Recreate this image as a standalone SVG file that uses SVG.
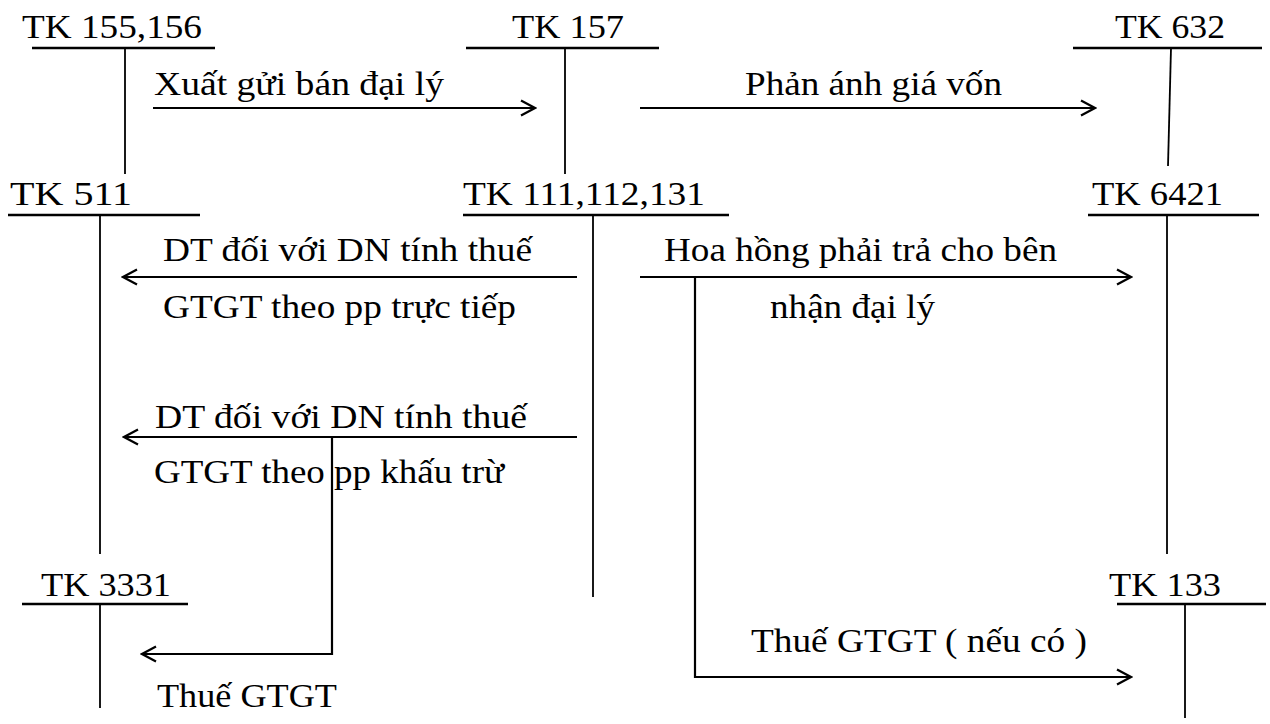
<svg xmlns="http://www.w3.org/2000/svg" width="1270" height="724" viewBox="0 0 1270 724">
  <style>
    .acct { stroke: #000; stroke-width: 2.5; fill: none; }
    .stem { stroke: #000; stroke-width: 1.8; fill: none; }
    .flow { stroke: #000; stroke-width: 2.2; fill: none; }
    .arrow { marker-end: url(#head); }
  </style>
  <defs>
    <marker id="head" viewBox="0 0 18 18" refX="16" refY="9" markerWidth="18" markerHeight="18" markerUnits="userSpaceOnUse" orient="auto">
      <path d="M2,1.5 L16,9 L2,16.5" fill="none" stroke="#000" stroke-width="2.2"/>
    </marker>
  </defs>
  <rect width="1270" height="724" fill="#fff"/>

  <g font-family="Tinos, 'Times New Roman', Times, 'Liberation Serif', 'Nimbus Roman', 'Noto Serif', FreeSerif, 'DejaVu Serif', serif" font-size="34" fill="#000">
  <!-- T-accounts -->
  <g id="tk155-156">
    <text x="22" y="38" textLength="180" lengthAdjust="spacingAndGlyphs">TK 155,156</text>
    <line class="acct" x1="32" y1="48" x2="215" y2="48"/>
    <line class="stem" x1="125" y1="48" x2="125" y2="174"/>
  </g>
  <g id="tk157">
    <text x="512" y="38" textLength="112" lengthAdjust="spacingAndGlyphs">TK 157</text>
    <line class="acct" x1="466" y1="48" x2="659" y2="48"/>
    <line class="stem" x1="565" y1="48" x2="565" y2="174"/>
  </g>
  <g id="tk632">
    <text x="1115" y="38" textLength="110" lengthAdjust="spacingAndGlyphs">TK 632</text>
    <line class="acct" x1="1073" y1="48" x2="1262" y2="48"/>
    <line class="stem" x1="1171" y1="48" x2="1168" y2="166"/>
  </g>
  <g id="tk511">
    <text x="10" y="205" textLength="122" lengthAdjust="spacingAndGlyphs">TK 511</text>
    <line class="acct" x1="8" y1="215" x2="200" y2="215"/>
    <line class="stem" x1="100" y1="215" x2="100" y2="554"/>
  </g>
  <g id="tk111-112-131">
    <text x="463" y="205" textLength="242" lengthAdjust="spacingAndGlyphs">TK 111,112,131</text>
    <line class="acct" x1="463" y1="215" x2="729" y2="215"/>
    <line class="stem" x1="593" y1="215" x2="593" y2="597"/>
  </g>
  <g id="tk6421">
    <text x="1092" y="205" textLength="131" lengthAdjust="spacingAndGlyphs">TK 6421</text>
    <line class="acct" x1="1088" y1="215" x2="1259" y2="215"/>
    <line class="stem" x1="1167" y1="215" x2="1167" y2="554"/>
  </g>
  <g id="tk3331">
    <text x="41" y="596" textLength="130" lengthAdjust="spacingAndGlyphs">TK 3331</text>
    <line class="acct" x1="22" y1="604" x2="188" y2="604"/>
    <line class="stem" x1="100" y1="604" x2="100" y2="708"/>
  </g>
  <g id="tk133">
    <text x="1109" y="596" textLength="112" lengthAdjust="spacingAndGlyphs">TK 133</text>
    <line class="acct" x1="1117" y1="604" x2="1266" y2="604"/>
    <line class="stem" x1="1185" y1="604" x2="1185" y2="718"/>
  </g>

  <!-- Entries between accounts -->
  <g id="connectors">
    <line class="flow arrow" x1="153" y1="108" x2="535" y2="108"/>
    <line class="flow arrow" x1="640" y1="108" x2="1095" y2="108"/>
    <line class="flow arrow" x1="577" y1="277" x2="123" y2="277"/>
    <line class="flow arrow" x1="640" y1="277" x2="1131" y2="277"/>
    <polyline class="flow arrow" points="695,277 695,677 1131,677"/>
    <line class="flow arrow" x1="577" y1="437" x2="124" y2="437"/>
    <polyline class="flow arrow" points="332,437 332,654 142,654"/>
  </g>

  <g id="labels">
    <text x="154" y="95" textLength="290" lengthAdjust="spacingAndGlyphs">Xuất gửi bán đại lý</text>
    <text x="745" y="95" textLength="257" lengthAdjust="spacingAndGlyphs">Phản ánh giá vốn</text>
    <text x="163" y="261" textLength="369" lengthAdjust="spacingAndGlyphs">DT đối với DN tính thuế</text>
    <text x="163" y="318" textLength="353" lengthAdjust="spacingAndGlyphs">GTGT theo pp trực tiếp</text>
    <text x="664" y="261" textLength="393" lengthAdjust="spacingAndGlyphs">Hoa hồng phải trả cho bên</text>
    <text x="770" y="318" textLength="165" lengthAdjust="spacingAndGlyphs">nhận đại lý</text>
    <text x="155" y="428" textLength="372" lengthAdjust="spacingAndGlyphs">DT đối với DN tính thuế</text>
    <text x="154" y="483" textLength="350" lengthAdjust="spacingAndGlyphs">GTGT theo pp khấu trừ</text>
    <text x="751" y="652" textLength="336" lengthAdjust="spacingAndGlyphs">Thuế GTGT ( nếu có )</text>
    <text x="157" y="707" textLength="180" lengthAdjust="spacingAndGlyphs">Thuế GTGT</text>
  </g>
  </g>
</svg>
